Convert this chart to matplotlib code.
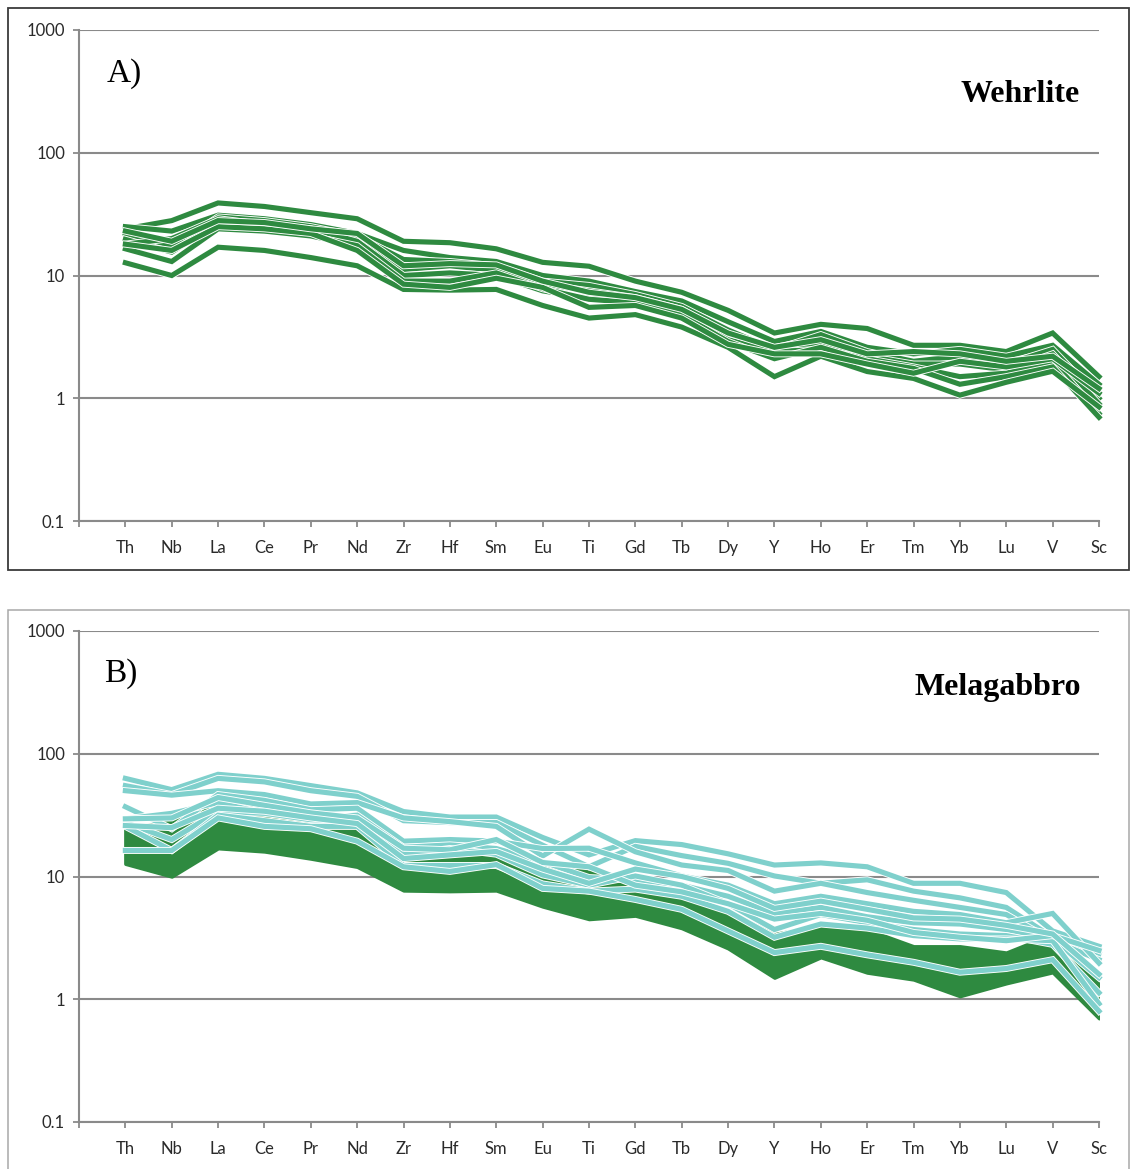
import matplotlib
matplotlib.use("Agg")
import matplotlib.pyplot as plt
import matplotlib.patheffects as pe
from matplotlib.patches import Rectangle
import numpy as np

elements = ["Th", "Nb", "La", "Ce", "Pr", "Nd", "Zr", "Hf", "Sm", "Eu", "Ti",
            "Gd", "Tb", "Dy", "Y", "Ho", "Er", "Tm", "Yb", "Lu", "V", "Sc"]

# Wehrlite samples (primitive-mantle normalised)
wehrlite = [
    [24, 28, 39, 36.5, 32.5, 29, 19, 18.5, 16.5, 12.8, 11.9, 9.0, 7.3, 5.2, 3.4, 4.0, 3.7, 2.7, 2.7, 2.4, 3.4, 1.5],
    [25, 23, 31, 29, 26, 22, 16, 14, 13, 10, 9.0, 7.4, 6.2, 4.2, 2.9, 3.5, 2.6, 2.3, 2.5, 2.2, 2.7, 1.3],
    [22, 17, 30, 28, 25, 21, 13.5, 13, 12, 9.0, 8.3, 7.0, 5.6, 3.6, 2.5, 3.3, 2.4, 2.0, 2.2, 1.9, 2.5, 1.0],
    [19.7, 15.5, 27, 25, 23, 20, 11.2, 12, 11, 8.5, 7.5, 6.6, 5.3, 3.3, 2.2, 2.9, 2.2, 1.9, 1.9, 1.7, 2.3, 0.9],
    [18, 20, 29, 26, 24, 19, 10, 10.5, 10, 7.5, 6.5, 6.4, 5.0, 3.0, 2.4, 2.5, 2.1, 1.8, 1.5, 1.6, 2.0, 0.75],
    [16.5, 13, 24, 23, 21, 17.5, 9.0, 9.0, 10.5, 7.8, 6.4, 6.0, 4.8, 2.9, 2.1, 2.6, 2.0, 1.75, 1.3, 1.5, 1.8, 0.7],
    [12.7, 10, 17, 16, 14, 12, 7.7, 7.6, 7.7, 5.7, 4.5, 4.8, 3.8, 2.6, 1.5, 2.2, 1.65, 1.45, 1.06, 1.35, 1.66, 0.85],
    [18, 16, 25, 24, 22, 16, 8.5, 8.0, 9.5, 8.0, 5.5, 5.7, 4.5, 2.75, 2.3, 2.3, 1.9, 1.6, 2.0, 1.8, 2.1, 1.1],
    [23, 19, 28, 27, 24, 22, 12, 12.5, 12.2, 9.0, 7.3, 6.6, 5.3, 3.4, 2.6, 3.0, 2.3, 2.4, 2.3, 2.0, 2.2, 1.2],
]

# Melagabbro samples
melagabbro = [
    [63, 51, 68, 63, 55, 48, 33.8, 30.5, 30.5, 20.8, 15, 19.6, 18.2, 15.3, 12.4, 12.9, 12.0, 8.8, 8.8, 7.4, 3.6, 2.7],
    [55, 46.5, 63, 59, 50, 45, 28.5, 27.5, 27.5, 18, 12, 17.6, 14.8, 12.8, 10.1, 8.8, 9.4, 7.6, 6.7, 5.6, 3.2, 2.35],
    [50, 46, 50, 46.5, 39, 40, 30, 28, 25.6, 14.7, 24.3, 15.9, 12.4, 11.2, 7.6, 8.8, 7.4, 6.4, 5.6, 4.9, 3.0, 2.1],
    [37, 24.5, 46.5, 41.7, 35, 36, 19.4, 20, 19.4, 16.9, 17, 12.9, 10.1, 8.5, 6.0, 6.9, 6.0, 5.2, 4.9, 4.2, 5.0, 1.97],
    [29.5, 32.7, 40, 33, 29.5, 31.6, 17.3, 18.1, 16.9, 13.2, 9.8, 9.4, 8.5, 6.9, 5.0, 5.6, 4.7, 4.2, 4.1, 3.7, 3.1, 1.5],
    [27.5, 20, 33.8, 32.7, 29, 28.5, 15.2, 16.9, 15.2, 10.3, 8.5, 10.1, 8.5, 6.0, 3.7, 4.9, 4.2, 3.7, 3.4, 3.3, 2.8, 1.13],
    [25.6, 16.3, 31.6, 28.5, 25.6, 25.6, 12.3, 12.3, 12.3, 8.7, 7.6, 7.9, 6.9, 5.2, 3.2, 4.1, 3.8, 3.3, 3.1, 3.1, 3.0, 0.92],
    [16.3, 16.3, 30, 25.6, 24.5, 19.4, 12, 11, 12.5, 8.0, 7.6, 6.5, 5.4, 3.6, 2.4, 2.7, 2.3, 2.0, 1.66, 1.78, 2.1, 0.8],
    [29.5, 30, 44, 38, 33, 30, 17, 16.5, 20, 13, 12, 8.5, 7.5, 6.0, 4.5, 5.0, 4.4, 3.5, 3.2, 3.0, 3.3, 2.5],
    [26, 25, 36, 34, 30, 27, 14, 15, 16, 11.5, 8.8, 11.5, 10, 8.0, 5.5, 6.3, 5.4, 4.6, 4.5, 4.0, 3.4, 1.6],
]

y_ticks = [0.1, 1, 10, 100, 1000]
y_ticklabels = ["0.1", "1", "10", "100", "1000"]

GREEN = "#2E8A40"
CYAN = "#7FD0CC"
GRID = "#8A8A8A"

W, H = 1133, 1169
fig = plt.figure(figsize=(W / 100, H / 100), dpi=100)
fig.patch.set_facecolor("white")

def px_rect(x0, y0, x1, y1):
    return [x0 / W, 1 - y1 / H, (x1 - x0) / W, (y1 - y0) / H]

# panel frames
fig.patches.append(Rectangle((8 / W, 1 - 570 / H), (1129 - 8) / W, (570 - 8) / H,
                             transform=fig.transFigure, fill=False,
                             edgecolor="#3A3A3A", linewidth=1.3))
fig.patches.append(Rectangle((8 / W, 1 - 1175 / H), (1129 - 8) / W, (1175 - 610) / H,
                             transform=fig.transFigure, fill=False,
                             edgecolor="#A8A8A8", linewidth=1.1))

x = np.arange(len(elements))

def style_axes(ax):
    ax.set_yscale("log")
    ax.set_ylim(0.1, 1000)
    ax.set_xlim(-1, len(elements) - 1)
    ax.set_yticks(y_ticks)
    ax.set_yticklabels(y_ticklabels)
    ax.yaxis.set_minor_locator(matplotlib.ticker.NullLocator())
    ax.set_xticks(np.arange(-1, len(elements)))
    ax.set_xticklabels([""] + elements)
    for t in ax.get_xticklabels() + ax.get_yticklabels():
        t.set_fontfamily("Lato")
        t.set_fontsize(12)
        t.set_color("#2A2A2A")
    ax.tick_params(axis="both", which="major", direction="out", length=4,
                   width=1.3, color=GRID)
    ax.tick_params(axis="x", pad=10)
    ax.tick_params(axis="y", pad=6)
    for s in ["top", "right"]:
        ax.spines[s].set_visible(False)
    for s in ["left", "bottom"]:
        ax.spines[s].set_color(GRID)
        ax.spines[s].set_linewidth(1.5)
    ax.grid(axis="y", color=GRID, linewidth=1.5, zorder=0)
    ax.grid(axis="x", visible=False)
    ax.set_axisbelow(True)
    ax.set_facecolor("white")

LW = 3.7
SW = 5.0

# Panel A
axA = fig.add_axes(px_rect(79, 30, 1099, 521))
style_axes(axA)
for s in wehrlite:
    axA.plot(x, s, color=GREEN, linewidth=LW, solid_joinstyle="miter",
             path_effects=[pe.withStroke(linewidth=SW, foreground="white")],
             zorder=3, clip_on=False)
axA.text(107 / W, 1 - 74 / H, "A)", transform=fig.transFigure,
         fontfamily="Liberation Serif", fontsize=24, va="center", ha="left")
axA.text(1080 / W, 1 - 95 / H, "Wehrlite", transform=fig.transFigure,
         fontfamily="Liberation Serif", fontsize=23, fontweight="bold",
         va="center", ha="right")

# Panel B
axB = fig.add_axes(px_rect(79, 631, 1099, 1122))
style_axes(axB)
warr = np.array(wehrlite)
axB.fill_between(x, warr.min(axis=0), warr.max(axis=0), color=GREEN,
                 linewidth=2.5, edgecolor=GREEN, zorder=2)
for s in melagabbro:
    axB.plot(x, s, color=CYAN, linewidth=LW, solid_joinstyle="miter",
             path_effects=[pe.withStroke(linewidth=SW, foreground="white")],
             zorder=3, clip_on=False)
axB.text(104 / W, 1 - 674 / H, "B)", transform=fig.transFigure,
         fontfamily="Liberation Serif", fontsize=24, va="center", ha="left")
axB.text(1081 / W, 1 - 688 / H, "Melagabbro", transform=fig.transFigure,
         fontfamily="Liberation Serif", fontsize=23, fontweight="bold",
         va="center", ha="right")

fig.savefig("out.png", dpi=100, facecolor="white")
